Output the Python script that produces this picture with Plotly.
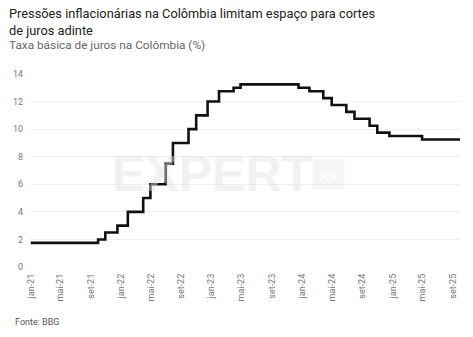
import plotly.graph_objects as go

# Change dates (decision dates) and resulting rates, %
change_dates = ["2021-01-01", "2021-09-30", "2021-10-29", "2021-12-17", "2022-01-28",
                "2022-03-31", "2022-04-29", "2022-06-30", "2022-07-29", "2022-09-30",
                "2022-10-31", "2022-12-16", "2023-01-31", "2023-03-31", "2023-04-28",
                "2023-12-18", "2024-01-31", "2024-03-27", "2024-04-30", "2024-06-28",
                "2024-07-31", "2024-09-30", "2024-10-31", "2024-12-19", "2025-04-30",
                "2025-09-30"]
rates = [1.75, 2.00, 2.50, 3.00, 4.00,
         5.00, 6.00, 7.50, 9.00, 10.00,
         11.00, 12.00, 12.75, 13.00, 13.25,
         13.00, 12.75, 12.25, 11.75, 11.25,
         10.75, 10.25, 9.75, 9.50, 9.25,
         9.25]

tick_dates = ["2021-01-01", "2021-05-01", "2021-09-01", "2022-01-01", "2022-05-01",
              "2022-09-01", "2023-01-01", "2023-05-01", "2023-09-01", "2024-01-01",
              "2024-05-01", "2024-09-01", "2025-01-01", "2025-05-01", "2025-09-01"]
tick_labels = ["jan-21", "mai-21", "set-21", "jan-22", "mai-22", "set-22", "jan-23",
               "mai-23", "set-23", "jan-24", "mai-24", "set-24", "jan-25", "mai-25", "set-25"]

W, H = 473, 337
ML, MR, MT, MB = 30, 13, 74, 70
plot_w = W - ML - MR
plot_h = H - MT - MB


def px_x(x):
    return (x - ML) / plot_w


def px_y(y):
    return ((H - y) - MB) / plot_h


fig = go.Figure()
fig.add_trace(go.Scatter(x=change_dates, y=rates, mode="lines",
                         line=dict(color="#111111", width=2.6, shape="hv"),
                         hoverinfo="x+y", showlegend=False))

fnt = "Roboto, Arial, sans-serif"
fig.update_layout(
    width=W, height=H,
    margin=dict(l=ML, r=MR, t=MT, b=MB),
    paper_bgcolor="white", plot_bgcolor="white",
    font=dict(family=fnt, color="#666666"),
    xaxis=dict(type="date", range=["2020-12-29", "2025-09-30"],
               tickvals=tick_dates, ticktext=tick_labels, tickangle=-90,
               tickfont=dict(size=9, color="#777777"), showgrid=False,
               zeroline=False, showline=False, ticks="", ticklabelstandoff=4),
    yaxis=dict(range=[0, 14], dtick=2, tickfont=dict(size=9, color="#777777"),
               gridcolor="#efefef", gridwidth=1, zeroline=False, showline=False,
               ticks="", ticklabelstandoff=6),
    annotations=[
        dict(text="<b>EXPERT</b>", x=px_x(212), y=px_y(174), xref="paper", yref="paper",
             showarrow=False, xanchor="center", yanchor="middle",
             font=dict(size=50, color="rgba(225,225,225,0.45)", family="Arial Black, Arial, sans-serif")),
        dict(text="<b>xp</b>", x=px_x(328), y=px_y(174), xref="paper", yref="paper",
             showarrow=False, xanchor="center", yanchor="middle",
             bgcolor="rgba(225,225,225,0.35)",
             font=dict(size=14, color="rgba(255,255,255,0.9)", family="Arial, sans-serif"),
             width=29, height=27),
        dict(text="Pressões inflacionárias na Colômbia limitam espaço para cortes<br>de juros adinte",
             x=px_x(7), y=px_y(4), xref="paper", yref="paper", showarrow=False,
             xanchor="left", yanchor="top", align="left",
             font=dict(size=12.8, color="#222222", family=fnt)),
        dict(text="Taxa básica de juros na Colômbia (%)",
             x=px_x(7), y=px_y(36), xref="paper", yref="paper", showarrow=False,
             xanchor="left", yanchor="top",
             font=dict(size=11.8, color="#666666", family=fnt)),
        dict(text="Fonte: BBG", x=px_x(13), y=px_y(315), xref="paper", yref="paper",
             showarrow=False, xanchor="left", yanchor="top",
             font=dict(size=9, color="#555555", family=fnt)),
    ],
)

fig.write_html("out.html")
